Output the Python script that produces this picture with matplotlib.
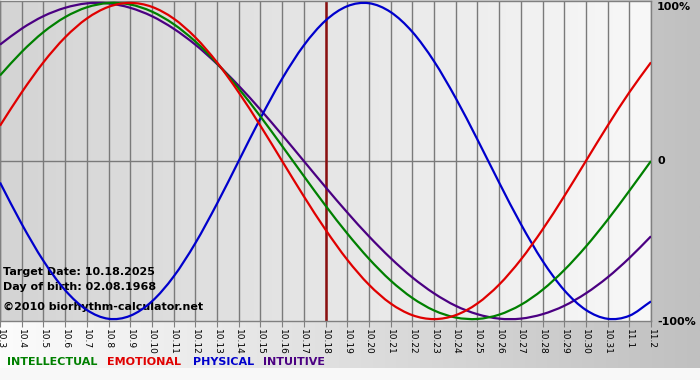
import numpy as np
import matplotlib; matplotlib.use("Agg")
import matplotlib.pyplot as plt
from matplotlib.colors import LinearSegmentedColormap
from matplotlib.path import Path
from matplotlib.patches import PathPatch

# days shown (month.day), 10.3 .. 11.2
dates = ["10.3","10.4","10.5","10.6","10.7","10.8","10.9","10.10","10.11","10.12",
         "10.13","10.14","10.15","10.16","10.17","10.18","10.19","10.20","10.21","10.22",
         "10.23","10.24","10.25","10.26","10.27","10.28","10.29","10.30","10.31","11.1","11.2"]
physical = [-0.136,-0.398,-0.631,-0.817,-0.942,-0.998,-0.979,-0.888,-0.731,-0.520,
            -0.270,0.0,0.270,0.520,0.731,0.888,0.979,0.998,0.942,0.817,
            0.631,0.398,0.136,-0.136,-0.398,-0.631,-0.817,-0.942,-0.998,-0.979,-0.888]
emotional = [0.223,0.434,0.624,0.782,0.901,0.975,1.0,0.975,0.901,0.782,
             0.624,0.434,0.223,0.0,-0.223,-0.434,-0.624,-0.782,-0.901,-0.975,
             -1.0,-0.975,-0.901,-0.782,-0.624,-0.434,-0.223,0.0,0.223,0.434,0.624]
intellectual = [0.541,0.690,0.815,0.910,0.972,0.999,0.990,0.945,0.866,0.756,
                0.618,0.458,0.282,0.095,-0.095,-0.282,-0.458,-0.618,-0.756,-0.866,
                -0.945,-0.990,-0.999,-0.972,-0.910,-0.815,-0.690,-0.541,-0.372,-0.189,0.0]
intuitive = [0.736,0.837,0.916,0.969,0.997,0.997,0.969,0.916,0.837,0.736,
             0.614,0.476,0.325,0.165,0.0,-0.165,-0.325,-0.476,-0.614,-0.736,
             -0.837,-0.916,-0.969,-0.997,-0.997,-0.969,-0.916,-0.837,-0.736,-0.614,-0.476]
target = "10.18"
info = ["Target Date: 10.18.2025", "Day of birth: 02.08.1968", "\u00a92010 biorhythm-calculator.net"]

C_INT = "#008000"; C_EMO = "#e00000"; C_PHY = "#0000cc"; C_ITU = "#4b0082"
W, H = 700, 380
def px(x, y): return x / W, 1 - y / H

def smooth_line(ax, xs, ys, color):
    # Catmull-Rom through the daily points, drawn as cubic bezier segments
    p = np.column_stack([xs, ys]).astype(float)
    q = np.vstack([2 * p[0] - p[1], p, 2 * p[-1] - p[-2]])
    verts = [p[0]]; codes = [Path.MOVETO]
    for i in range(1, len(q) - 2):
        verts += [q[i] + (q[i + 1] - q[i - 1]) / 6, q[i + 1] - (q[i + 2] - q[i]) / 6, q[i + 1]]
        codes += [Path.CURVE4] * 3
    ax.add_patch(PathPatch(Path(verts, codes), fill=False, edgecolor=color, lw=1.6, zorder=3))

fig = plt.figure(figsize=(7, 3.8), dpi=100, facecolor="#f8f8f8")
grad = np.linspace(0, 1, 256)[None, :]

bg = fig.add_axes([0, 0, 1, 1], zorder=0); bg.set_axis_off()
bg.imshow(grad, cmap=LinearSegmentedColormap.from_list("o", ["#fcfcfc", "#c0c0c0"]),
          aspect="auto", extent=[0, 1, 12 / H, 1])
bg.set_xlim(0, 1); bg.set_ylim(0, 1)

ax = fig.add_axes([0, 59 / H, 651 / W, 320 / H], zorder=1)
x = np.arange(len(dates))
ax.imshow(grad, cmap=LinearSegmentedColormap.from_list("i", ["#d4d4d4", "#f8f8f8"]),
          aspect="auto", extent=[0, x[-1], -1.012, 1.012], zorder=0)
ax.set_xlim(0, x[-1]); ax.set_ylim(-1.012, 1.012)
ax.set_xticks(x); ax.set_xticklabels(dates)
ax.set_yticks([])
ax.grid(axis="x", color="#7a7a7a", lw=1, zorder=1)
ax.axhline(0, color="#7a7a7a", lw=1, zorder=1)
for s in ax.spines.values(): s.set_color("#808080"); s.set_linewidth(1)
ax.tick_params(axis="x", length=4, color="#808080", pad=1.5, labelsize=6.5, labelrotation=-90)
ax.axvline(dates.index(target), color="#8b1010", lw=1.8, zorder=2)

for t, yy in zip(info, [0.153, 0.106, 0.044]):
    ax.text(3 / 651, yy, t, transform=ax.transAxes, fontsize=8,
            fontweight="bold", va="center", ha="left", zorder=2)

smooth_line(ax, x, intuitive, C_ITU)
smooth_line(ax, x, physical, C_PHY)
smooth_line(ax, x, intellectual, C_INT)
smooth_line(ax, x, emotional, C_EMO)

fig.text(*px(657, 7), "100%", fontsize=8, fontweight="bold", va="center", ha="left")
fig.text(*px(658, 161), "0", fontsize=8, fontweight="bold", va="center", ha="left")
fig.text(*px(657, 322), "-100%", fontsize=8, fontweight="bold", va="center", ha="left")

for lx, lab, c in [(7, "INTELLECTUAL", C_INT), (107, "EMOTIONAL", C_EMO),
                   (193, "PHYSICAL", C_PHY), (263, "INTUITIVE", C_ITU)]:
    fig.text(*px(lx, 362), lab, color=c, fontsize=8, fontweight="bold", va="center", ha="left")

plt.savefig("out.png", dpi=100)
